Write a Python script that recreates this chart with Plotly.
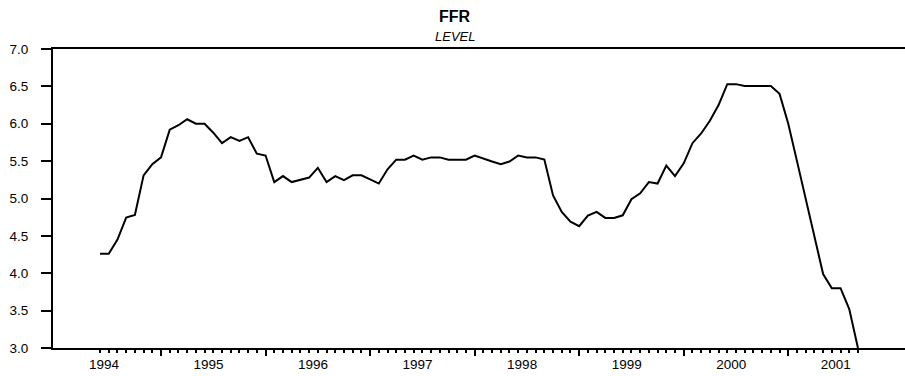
import plotly.graph_objects as go

# Monthly observations, first one at the "1994" tick
ffr = [4.26, 4.26, 4.45, 4.745, 4.78, 5.31, 5.46, 5.55, 5.92, 5.98, 6.06, 6.00,
       6.00, 5.88, 5.74, 5.82, 5.77, 5.82, 5.60, 5.575, 5.22, 5.30, 5.22, 5.25,
       5.28, 5.41, 5.22, 5.30, 5.245, 5.31, 5.31, 5.255, 5.20, 5.39, 5.52, 5.52,
       5.575, 5.52, 5.55, 5.55, 5.52, 5.52, 5.52, 5.575, 5.53, 5.495, 5.46, 5.495,
       5.575, 5.55, 5.55, 5.52, 5.04, 4.82, 4.69, 4.63, 4.77, 4.82, 4.74, 4.74,
       4.775, 4.99, 5.07, 5.22, 5.20, 5.44, 5.30, 5.47, 5.74, 5.87, 6.04, 6.25,
       6.53, 6.53, 6.505, 6.505, 6.505, 6.505, 6.40, 6.00, 5.50, 5.00, 4.48, 3.99,
       3.80, 3.80, 3.52, 3.00]
years = ["1994", "1995", "1996", "1997", "1998", "1999", "2000", "2001"]
y_ticks = [3.0, 3.5, 4.0, 4.5, 5.0, 5.5, 6.0, 6.5, 7.0]
title_text = "FFR"
subtitle_text = "LEVEL"

n = len(ffr)
x = list(range(n))
label_pos = [12 * i + 0.45 for i in range(len(years))]
long_ticks = [v for v in range(7, n, 12)]
short_ticks = [v for v in range(n) if v not in long_ticks]
xr = [-5.4, 92.4]
FONT = "Liberation Sans, Arial, sans-serif"

fig = go.Figure()
fig.add_trace(go.Scatter(x=x, y=ffr, mode="lines",
                         line=dict(color="black", width=2),
                         showlegend=False, hoverinfo="skip"))
fig.add_trace(go.Scatter(x=[0], y=[None], xaxis="x2", showlegend=False, hoverinfo="skip"))
fig.add_trace(go.Scatter(x=[0], y=[None], xaxis="x3", showlegend=False, hoverinfo="skip"))

fig.update_layout(
    width=905, height=376,
    margin=dict(l=53, r=0, t=49, b=28, pad=0),
    paper_bgcolor="white", plot_bgcolor="white",
    font=dict(family=FONT, color="black", size=12),
    xaxis=dict(range=xr, showgrid=False, zeroline=False,
               showline=True, linecolor="black", linewidth=2, mirror=True,
               tickvals=label_pos, ticktext=years, ticks="",
               tickfont=dict(size=13.5), ticklabelstandoff=3),
    xaxis2=dict(range=xr, overlaying="x", anchor="y", side="bottom",
                showgrid=False, zeroline=False, showline=False,
                tickvals=short_ticks, ticks="outside", ticklen=4, tickwidth=1.5,
                tickcolor="black", showticklabels=False),
    xaxis3=dict(range=xr, overlaying="x", anchor="y", side="bottom",
                showgrid=False, zeroline=False, showline=False,
                tickvals=long_ticks, ticks="outside", ticklen=7, tickwidth=2,
                tickcolor="black", showticklabels=False),
    yaxis=dict(range=[3, 7], showgrid=False, zeroline=False,
               showline=True, linecolor="black", linewidth=2,
               tickvals=y_ticks, tickformat=".1f",
               ticks="outside", ticklen=10, tickwidth=2, tickcolor="black",
               tickfont=dict(size=13.5), ticklabelstandoff=10),
    annotations=[
        dict(text="<b>" + title_text + "</b>", xref="paper", yref="paper",
             x=0.472, y=1.11, xanchor="center", yanchor="middle",
             showarrow=False, font=dict(size=16, family=FONT)),
        dict(text="<i>" + subtitle_text + "</i>", xref="paper", yref="paper",
             x=0.472, y=1.041, xanchor="center", yanchor="middle",
             showarrow=False, font=dict(size=13, family=FONT)),
    ],
)

fig.write_html("out.html")
